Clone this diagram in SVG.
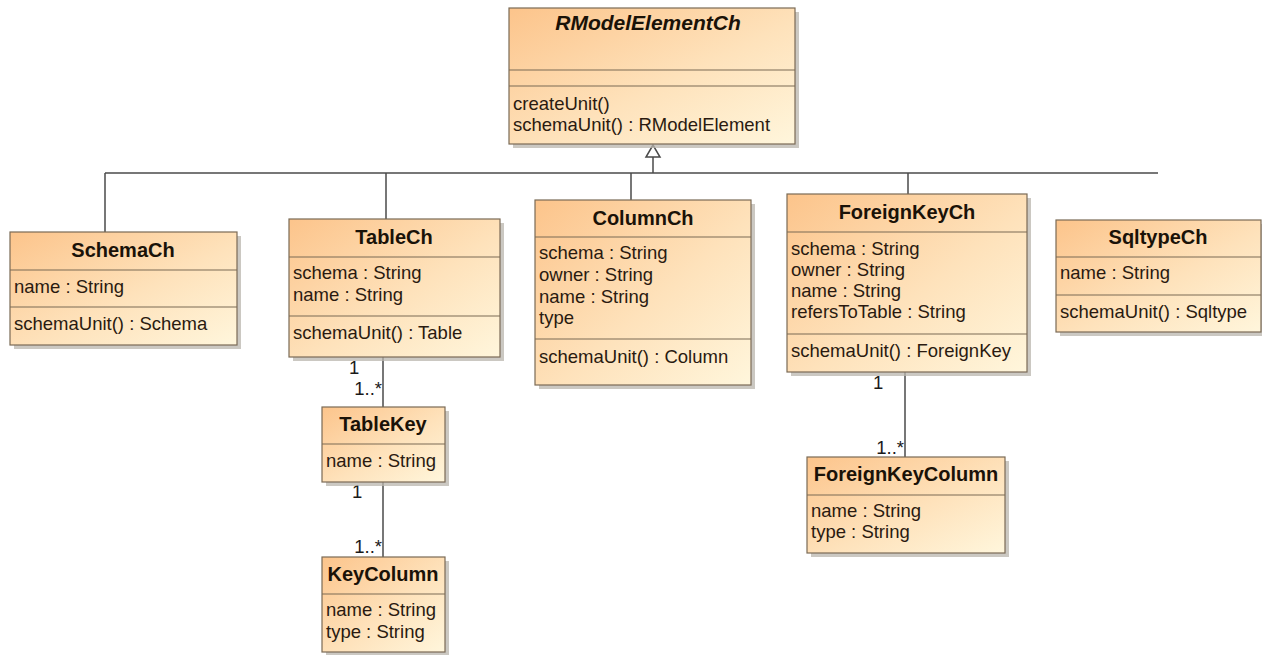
<svg xmlns="http://www.w3.org/2000/svg" width="1263" height="655" viewBox="0 0 1263 655">
  <defs>
    <linearGradient id="fill" x1="0" y1="0" x2="1" y2="1">
      <stop offset="0" stop-color="#fcc48b"/>
      <stop offset="0.55" stop-color="#fee2bb"/>
      <stop offset="1" stop-color="#fff6dc"/>
    </linearGradient>
  </defs>
  <style>
    .box { fill: url(#fill); stroke: #7a6a55; stroke-width: 1.2; }
    .shadow { fill: #b9b5ae; opacity: 0.75; }
    .div { stroke: #7a6a55; stroke-width: 1.2; }
    .title { font-family: "Liberation Sans", Arial, sans-serif; font-size: 20px; font-weight: bold; fill: #1a1208; text-anchor: middle; }
    .ital { font-style: italic; font-size: 21px; }
    .txt { font-family: "Liberation Sans", Arial, sans-serif; font-size: 18.5px; fill: #2a1a10; }
    .mult { font-family: "Liberation Sans", Arial, sans-serif; font-size: 18.5px; fill: #1a1a1a; }
    .end { text-anchor: end; }
    .line { stroke: #4a4a4a; stroke-width: 1.5; fill: none; }
  </style>
  <rect width="1263" height="655" fill="#ffffff"/>

  <g id="connectors">
    <!-- generalization tree -->
    <line class="line" x1="105" y1="173" x2="1158" y2="173"/>
    <line class="line" x1="653" y1="157" x2="653" y2="173"/>
    <polygon points="653,145 646,157 660,157" fill="#ffffff" stroke="#4a4a4a" stroke-width="1.5"/>
    <line class="line" x1="105" y1="173" x2="105" y2="232"/>
    <line class="line" x1="386" y1="173" x2="386" y2="219"/>
    <line class="line" x1="631" y1="173" x2="631" y2="200"/>
    <line class="line" x1="908" y1="173" x2="908" y2="194"/>
    <!-- associations -->
    <line class="line" x1="383" y1="357" x2="383" y2="407"/>
    <line class="line" x1="383" y1="482" x2="383" y2="557"/>
    <line class="line" x1="905" y1="372" x2="905" y2="457"/>
    <text class="mult" x="349" y="374">1</text>
    <text class="mult end" x="382" y="395">1..*</text>
    <text class="mult" x="352" y="498">1</text>
    <text class="mult end" x="382" y="553">1..*</text>
    <text class="mult" x="873" y="389">1</text>
    <text class="mult end" x="904" y="454">1..*</text>
  </g>

  <g id="RModelElementCh">
    <rect class="shadow" x="513" y="12" width="286" height="136"/>
    <rect class="box" x="509" y="8" width="286" height="136"/>
    <line class="div" x1="509" y1="70" x2="795" y2="70"/>
    <line class="div" x1="509" y1="86" x2="795" y2="86"/>
    <text class="title ital" x="648" y="30">RModelElementCh</text>
    <text class="txt" x="513" y="110">createUnit()</text>
    <text class="txt" x="513" y="131">schemaUnit() : RModelElement</text>
  </g>

  <g id="SchemaCh">
    <rect class="shadow" x="14" y="236" width="227" height="113"/>
    <rect class="box" x="10" y="232" width="227" height="113"/>
    <line class="div" x1="10" y1="270" x2="237" y2="270"/>
    <line class="div" x1="10" y1="307" x2="237" y2="307"/>
    <text class="title" x="123" y="257">SchemaCh</text>
    <text class="txt" x="14" y="293">name : String</text>
    <text class="txt" x="14" y="330">schemaUnit() : Schema</text>
  </g>

  <g id="TableCh">
    <rect class="shadow" x="293" y="223" width="211" height="138"/>
    <rect class="box" x="289" y="219" width="211" height="138"/>
    <line class="div" x1="289" y1="257" x2="500" y2="257"/>
    <line class="div" x1="289" y1="316" x2="500" y2="316"/>
    <text class="title" x="394" y="244">TableCh</text>
    <text class="txt" x="293" y="279">schema : String</text>
    <text class="txt" x="293" y="301">name : String</text>
    <text class="txt" x="293" y="339">schemaUnit() : Table</text>
  </g>

  <g id="ColumnCh">
    <rect class="shadow" x="539" y="204" width="216" height="185"/>
    <rect class="box" x="535" y="200" width="216" height="185"/>
    <line class="div" x1="535" y1="237" x2="751" y2="237"/>
    <line class="div" x1="535" y1="339" x2="751" y2="339"/>
    <text class="title" x="643" y="225">ColumnCh</text>
    <text class="txt" x="539" y="259">schema : String</text>
    <text class="txt" x="539" y="281">owner : String</text>
    <text class="txt" x="539" y="303">name : String</text>
    <text class="txt" x="539" y="324">type</text>
    <text class="txt" x="539" y="363">schemaUnit() : Column</text>
  </g>

  <g id="ForeignKeyCh">
    <rect class="shadow" x="791" y="198" width="240" height="178"/>
    <rect class="box" x="787" y="194" width="240" height="178"/>
    <line class="div" x1="787" y1="232" x2="1027" y2="232"/>
    <line class="div" x1="787" y1="334" x2="1027" y2="334"/>
    <text class="title" x="907" y="219">ForeignKeyCh</text>
    <text class="txt" x="791" y="255">schema : String</text>
    <text class="txt" x="791" y="276">owner : String</text>
    <text class="txt" x="791" y="297">name : String</text>
    <text class="txt" x="791" y="318">refersToTable : String</text>
    <text class="txt" x="791" y="357">schemaUnit() : ForeignKey</text>
  </g>

  <g id="SqltypeCh">
    <rect class="shadow" x="1060" y="224" width="202" height="112"/>
    <rect class="box" x="1056" y="220" width="205" height="112"/>
    <line class="div" x1="1056" y1="257" x2="1261" y2="257"/>
    <line class="div" x1="1056" y1="295" x2="1261" y2="295"/>
    <text class="title" x="1158" y="244">SqltypeCh</text>
    <text class="txt" x="1060" y="279">name : String</text>
    <text class="txt" x="1060" y="318">schemaUnit() : Sqltype</text>
  </g>

  <g id="TableKey">
    <rect class="shadow" x="326" y="411" width="123" height="75"/>
    <rect class="box" x="322" y="407" width="123" height="75"/>
    <line class="div" x1="322" y1="444" x2="445" y2="444"/>
    <text class="title" x="383" y="431">TableKey</text>
    <text class="txt" x="326" y="467">name : String</text>
  </g>

  <g id="KeyColumn">
    <rect class="shadow" x="326" y="561" width="123" height="94"/>
    <rect class="box" x="322" y="557" width="123" height="95"/>
    <line class="div" x1="322" y1="594" x2="445" y2="594"/>
    <text class="title" x="383" y="581">KeyColumn</text>
    <text class="txt" x="326" y="616">name : String</text>
    <text class="txt" x="326" y="638">type : String</text>
  </g>

  <g id="ForeignKeyColumn">
    <rect class="shadow" x="811" y="461" width="198" height="96"/>
    <rect class="box" x="807" y="457" width="198" height="96"/>
    <line class="div" x1="807" y1="495" x2="1005" y2="495"/>
    <text class="title" x="906" y="481">ForeignKeyColumn</text>
    <text class="txt" x="811" y="517">name : String</text>
    <text class="txt" x="811" y="538">type : String</text>
  </g>
</svg>
